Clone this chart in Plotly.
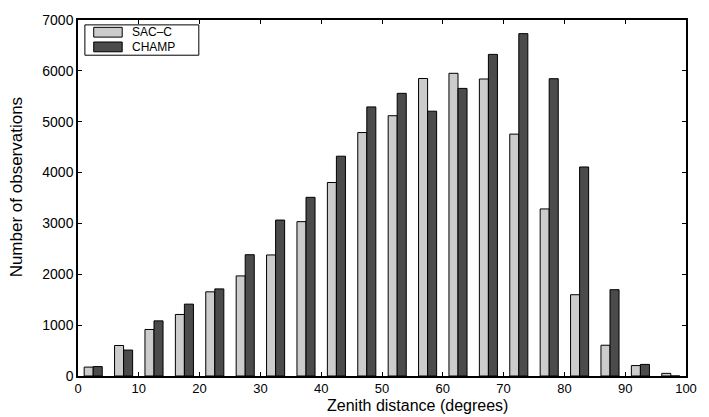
import plotly.graph_objects as go

# Bin centers (zenith distance, degrees)
zenith = [2.5, 7.5, 12.5, 17.5, 22.5, 27.5, 32.5, 37.5, 42.5, 47.5,
          52.5, 57.5, 62.5, 67.5, 72.5, 77.5, 82.5, 87.5, 92.5, 97.5]
sacc = [175, 600, 915, 1210, 1655, 1968, 2380, 3035, 3805, 4787,
        5118, 5850, 5952, 5840, 4756, 3285, 1598, 605, 205, 52]
champ = [185, 510, 1084, 1413, 1713, 2385, 3066, 3513, 4322, 5291,
         5558, 5207, 5655, 6324, 6732, 5846, 4110, 1697, 228, 0]
xticks = [0, 10, 20, 30, 40, 50, 60, 70, 80, 90, 100]
yticks = [0, 1000, 2000, 3000, 4000, 5000, 6000, 7000]
names = ["SAC\u2013C", "CHAMP"]
colors = ["#cccccc", "#4b4b4b"]

FONT = "Liberation Sans, Arial, Helvetica, sans-serif"

fig = go.Figure()
for name, vals, col in zip(names, [sacc, champ], colors):
    fig.add_trace(go.Bar(x=zenith, y=vals, name=name,
                         marker=dict(color=col, line=dict(color="black", width=1)),
                         showlegend=False))

W, H = 709, 417
L, R, T, B = 78, 12, 12, 41
pw, ph = W - L - R, H - T - B

def px(x):
    return (x - L) / pw

def py(y):
    return (H - B - y) / ph

fig.update_layout(
    width=W, height=H,
    margin=dict(l=L, r=R, t=T, b=B),
    paper_bgcolor="white", plot_bgcolor="white",
    barmode="group", bargap=0.405, bargroupgap=0,
    font=dict(family=FONT, color="black", size=14),
)
fig.update_xaxes(range=[0, 100], tickvals=xticks, ticktext=[str(v) for v in xticks],
                 ticks="inside", ticklen=4, tickwidth=1, tickcolor="black",
                 showline=True, linecolor="black", linewidth=1.5, mirror="ticks",
                 showgrid=False, zeroline=False, tickfont=dict(size=13),
                 ticklabelstandoff=0)
fig.update_yaxes(range=[0, 7000], tickvals=yticks, ticktext=[str(v) for v in yticks],
                 ticks="inside", ticklen=4, tickwidth=1, tickcolor="black",
                 showline=True, linecolor="black", linewidth=1.5, mirror="ticks",
                 showgrid=False, zeroline=False, tickfont=dict(size=14))

# axis titles
fig.add_annotation(text="Zenith distance (degrees)", xref="paper", yref="paper",
                   x=px(424), y=py(417), showarrow=False, font=dict(size=16),
                   xanchor="center", yanchor="bottom", yshift=0)
fig.add_annotation(text="Number of observations", xref="paper", yref="paper",
                   x=px(15), y=py(183), showarrow=False, font=dict(size=17),
                   textangle=-90, xanchor="center", yanchor="middle")

# legend box (drawn like the original)
fig.add_shape(type="rect", xref="paper", yref="paper",
              x0=px(85), x1=px(201), y0=py(48), y1=py(17),
              line=dict(color="black", width=1), fillcolor="white")
for i, (name, col) in enumerate(zip(names, colors)):
    yc = 24.5 + i * 15
    fig.add_shape(type="rect", xref="paper", yref="paper",
                  x0=px(94), x1=px(123), y0=py(yc + 5), y1=py(yc - 5),
                  line=dict(color="black", width=1), fillcolor=col)
    fig.add_annotation(text=name, xref="paper", yref="paper",
                       x=px(131), y=py(yc), showarrow=False, font=dict(size=12),
                       xanchor="left", yanchor="middle")

fig.write_html("out.html")
